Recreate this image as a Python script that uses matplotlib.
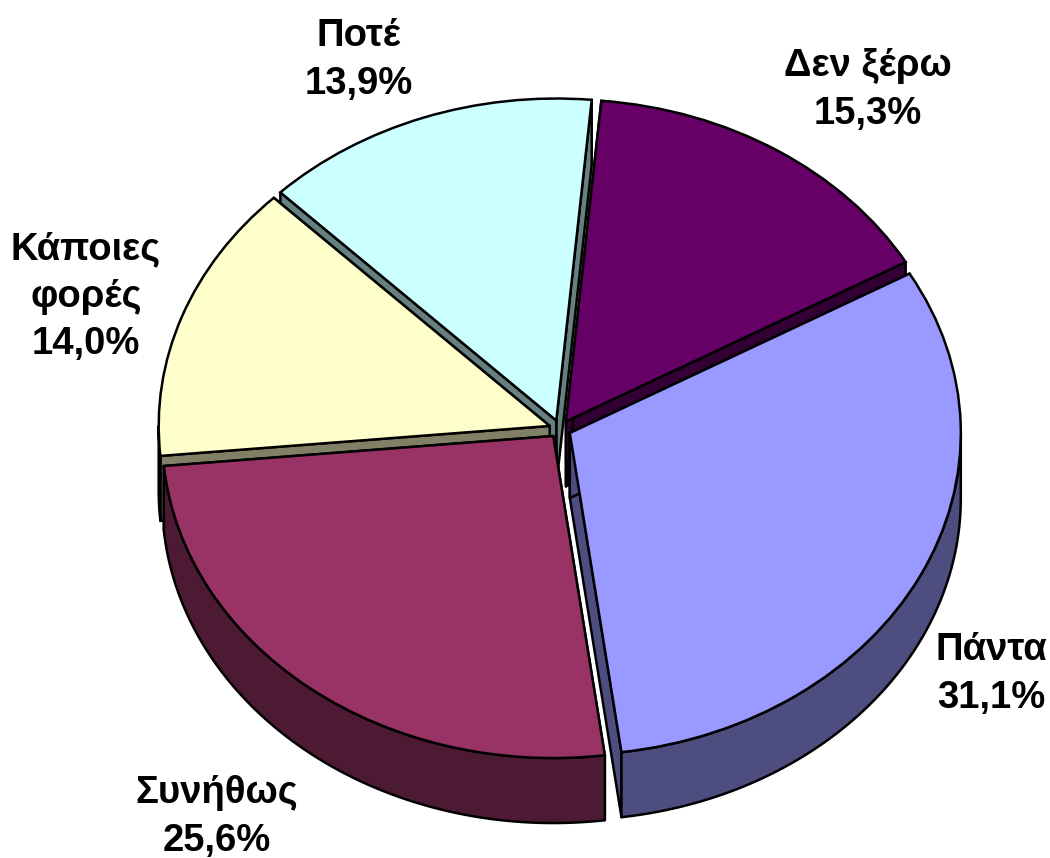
#!/usr/bin/env python3
# -*- coding: utf-8 -*-
import numpy as np
import matplotlib
matplotlib.use('Agg')
import matplotlib.pyplot as plt
from matplotlib.patches import Polygon

labels = ['Δεν ξέρω', 'Πάντα', 'Συνήθως', 'Κάποιες\nφορές', 'Ποτέ']
values = [15.3, 31.1, 25.6, 14.0, 13.9]
value_labels = ['15,3%', '31,1%', '25,6%', '14,0%', '13,9%']

top_colors = ['#660066', '#9999FF', '#993366', '#FFFFCC', '#CCFFFF']
wall_colors = ['#330033', '#4D4D80', '#4D1A33', '#808066', '#668080']
label_pos = [(868, 90), (991, 674), (217, 817), (86, 297), (359, 60)]
draw_order = [0, 4, 3, 1, 2]

W, H = 1050, 858
CX, CY = 560, 429
RX, RY = 391, 322
DEPTH = 65 / RY
LW = 1.8

plt.rcParams['font.family'] = ['Liberation Sans', 'DejaVu Sans']

fig = plt.figure(figsize=(W / 100, H / 100), dpi=100, facecolor='white')
ax = fig.add_axes([0, 0, 1, 1])
wedges, _ = ax.pie(values, explode=[0.028] * len(values), startangle=84.8,
                   counterclock=False, colors=top_colors, radius=1.0,
                   wedgeprops=dict(edgecolor='black', linewidth=LW))
ax.set_aspect('auto')
ax.set_xlim(-CX / RX, (W - CX) / RX)
ax.set_ylim((CY - H) / RY, CY / RY)
ax.axis('off')


def add_wall(pts, color, z):
    pts = np.array(pts)
    low = pts - [0, DEPTH]
    ax.add_patch(Polygon(np.vstack([pts, low[::-1]]), closed=True, facecolor=color,
                         edgecolor='black', linewidth=LW, joinstyle='round', zorder=z))


for z, i in enumerate(draw_order):
    w = wedges[i]
    base = 10 + z * 2
    c = np.array(w.center)
    t1, t2 = np.radians(w.theta1), np.radians(w.theta2)
    # cut faces first, outer rim on top of them
    for t in (t1, t2):
        add_wall([c, c + [np.cos(t), np.sin(t)]], wall_colors[i], base)
    tt = np.linspace(t1, t2, 200)
    tt = tt[np.sin(tt) < 0]
    if len(tt) > 1:
        add_wall(np.column_stack([c[0] + np.cos(tt), c[1] + np.sin(tt)]), wall_colors[i], base)
    w.set_zorder(base + 1)

for i, (x, y) in enumerate(label_pos):
    fig.text(x / W, 1 - y / H, labels[i] + '\n' + value_labels[i], ha='center', va='center',
             fontsize=27.5, fontweight='bold', color='black', linespacing=1.4)

fig.savefig('out.png', dpi=100)
